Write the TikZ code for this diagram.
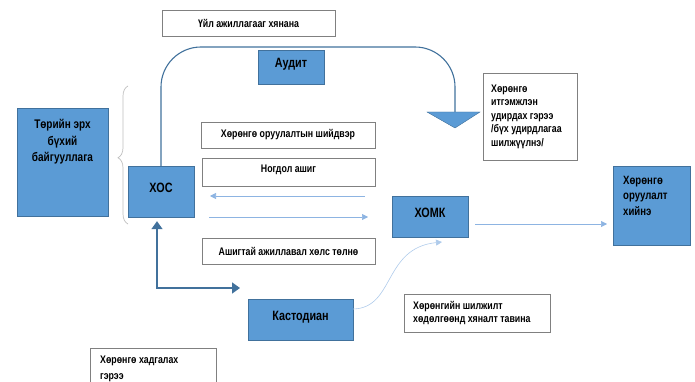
\documentclass[tikz,border=0pt]{standalone}
\usepackage{fontspec}
\setmainfont{Liberation Sans}[FakeStretch=0.8]
\usetikzlibrary{arrows.meta,decorations.pathreplacing}
\definecolor{boxblue}{HTML}{5B9BD5}
\definecolor{boxedge}{HTML}{41719C}
\definecolor{liteline}{HTML}{8DB4E2}
\definecolor{notegray}{HTML}{808080}
\begin{document}
\begin{tikzpicture}[x=1pt,y=-1pt,
    blue node/.style={draw=boxedge,fill=boxblue,font=\fontsize{13.5}{16}\selectfont\bfseries},
    note node/.style={draw=notegray,fill=white,font=\fontsize{11}{14}\selectfont\bfseries},
    text node/.style={inner sep=0pt,align=left,font=\fontsize{11}{13.5}\selectfont\bfseries},
    lite arrow/.style={draw=liteline,line width=0.6pt,-{Triangle[width=6pt,length=6pt]}},
    dark arrow/.style={draw=boxedge,line width=1.4pt,{Triangle[width=11pt,length=8pt]}-{Triangle[width=11pt,length=8pt]}}]
    \useasboundingbox (0,0) rectangle (695,382);
    \clip (0,0) rectangle (695,382);

    % blue boxes
    \node[blue node,minimum width=91pt,minimum height=108pt] at (62.5,162) (tor) {};
    \node[text node,align=center,anchor=north,font=\fontsize{12.5}{16.5}\selectfont\bfseries] at (62.5,119) (tortxt) {Төрийн эрх\\бүхий\\байгууллага};
    \node[blue node,minimum width=66pt,minimum height=51pt,text depth=7pt] at (161,191.5) (xos) {ХОС};
    \node[blue node,minimum width=66pt,minimum height=34pt,text depth=8pt] at (291,67) (audit) {Аудит};
    \node[blue node,minimum width=76pt,minimum height=41pt,text depth=7pt] at (430,216.5) (xomk) {ХОМК};
    \node[blue node,minimum width=105pt,minimum height=41pt,text depth=7pt] at (300.5,319.5) (kastod) {Кастодиан};
    \node[blue node,minimum width=77pt,minimum height=79pt] at (651.5,205.5) (oruulalt) {};
    \node[text node,anchor=north west,font=\fontsize{12}{15.5}\selectfont\bfseries] at (623,176) (oruulalttxt) {Хөрөнгө\\оруулалт\\хийнэ};

    % white boxes
    \node[note node,minimum width=173pt,minimum height=26pt] at (248.5,23) (hyanah) {Үйл ажиллагааг хянана};
    \node[note node,minimum width=174pt,minimum height=26pt] at (288,135) (shiidver) {Хөрөнгө оруулалтын шийдвэр};
    \node[note node,minimum width=173pt,minimum height=28pt,text depth=6pt] at (288.5,172) (nogdol) {Ногдол ашиг};
    \node[note node,minimum width=173pt,minimum height=26pt] at (288.5,251) (ashigtai) {Ашигтай ажиллавал хөлс төлнө};
    \node[note node,minimum width=94pt,minimum height=87pt] at (530,116.5) (geree) {};
    \node[text node,anchor=west] at (491,116.5) (gereetxt) {Хөрөнгө\\итгэмжлэн\\удирдах гэрээ\\/бүх удирдлагаа\\шилжүүлнэ/};
    \node[note node,minimum width=146pt,minimum height=38pt] at (477,313) (shiljilt) {};
    \node[text node,anchor=west] at (413,313) (shiljilttxt) {Хөрөнгийн шилжилт\\хөдөлгөөнд хяналт тавина};
    \node[note node,minimum width=126pt,minimum height=60pt] at (153,378) (hadgalah) {};
    \node[text node,anchor=north west,font=\fontsize{11}{16}\selectfont\bfseries] at (100,356) (hadgalahtxt) {Хөрөнгө хадгалах\\гэрээ};

    % brace
    \draw[draw=notegray!50,line width=0.7pt,decorate,decoration={brace,amplitude=10pt,aspect=0.48}]
        (128,224) -- (128,86);

    % audit loop
    \coordinate (tritop) at (455,112);
    \draw[draw=boxedge,line width=1.1pt,rounded corners=40pt] (xos.north) -- (161,47) -- (455,47) -- (tritop);
    \fill[boxblue,draw=boxedge,line width=0.4pt] (427,112) -- (480,112) -- (455,128) -- cycle;

    % arrows
    \coordinate (l1) at (365,196);
    \coordinate (l2) at (210,196);
    \coordinate (r1) at (209,217);
    \coordinate (r2) at (368,217);
    \coordinate (o1) at (475,224);
    \coordinate (o2) at (607,224);
    \coordinate (kc) at (240,288);
    \coordinate (xomkin) at (442,242);
    \draw[lite arrow] (l1) -- (l2);
    \draw[lite arrow] (r1) -- (r2);
    \draw[lite arrow] (o1) -- (o2);
    \draw[lite arrow,draw=liteline!70] (kastod.east |- 0,309) .. controls (395,308) and (383,248) .. (xomkin);
    \draw[dark arrow] ([shift={(-4,4)}]xos.south) |- (kc);

\end{tikzpicture}
\end{document}
